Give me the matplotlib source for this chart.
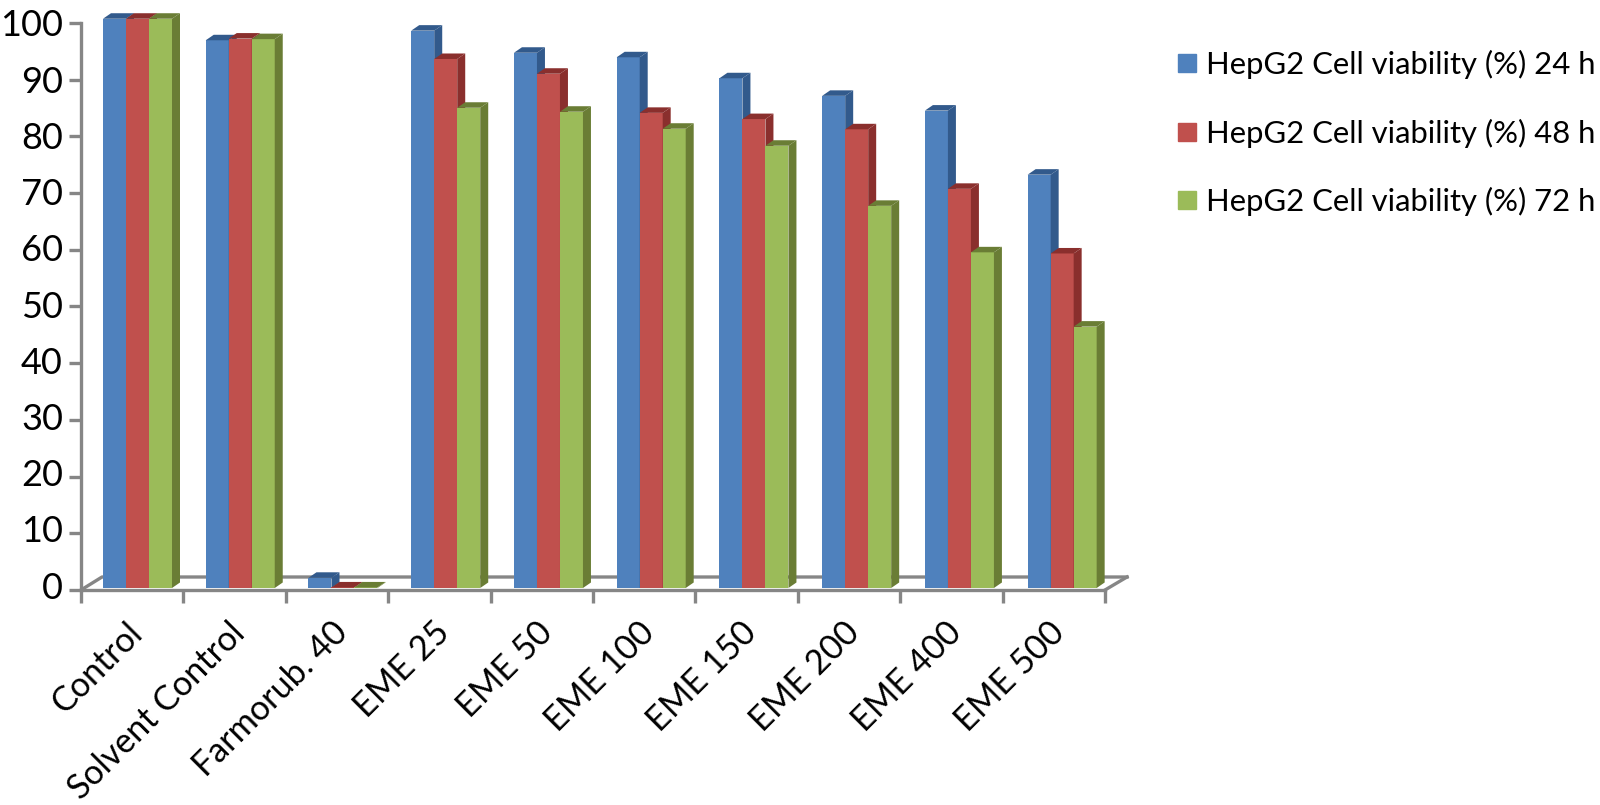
import matplotlib
matplotlib.use("Agg")
import matplotlib.pyplot as plt
from matplotlib.patches import Polygon
from matplotlib.lines import Line2D
from matplotlib.transforms import ScaledTranslation

plt.rcParams["font.family"] = ["Lato", "DejaVu Sans"]

categories = ["Control", "Solvent Control", "Farmorub. 40", "EME 25", "EME 50",
              "EME 100", "EME 150", "EME 200", "EME 400", "EME 500"]
series_names = ["HepG2 Cell viability (%) 24 h", "HepG2 Cell viability (%) 48 h",
                "HepG2 Cell viability (%) 72 h"]
viab_24 = [100.4, 96.6, 1.8, 98.3, 94.4, 93.6, 89.9, 86.8, 84.2, 72.9]
viab_48 = [100.4, 96.9, 0.1, 93.3, 90.7, 83.8, 82.7, 80.9, 70.4, 59.0]
viab_72 = [100.4, 96.8, 0.1, 84.7, 84.0, 81.0, 78.0, 67.4, 59.2, 46.1]
front_colors = ["#4f81bd", "#c0504d", "#9bbb59"]
side_colors = ["#325a8c", "#8a2f2d", "#6a7d35"]

fig = plt.figure(figsize=(16, 8.05), dpi=100)
# axes: x 0..10 = pixels 81..1105, y 0..100 = pixels 590..23
ax = fig.add_axes([81 / 1600, 1 - 590 / 805, 1024 / 1600, 567 / 805])
ax.set_xlim(0, 10)
ax.set_ylim(0, 100)
ax.patch.set_alpha(0)

px_x = 10 / 1024
px_y = 100 / 567
gray = "#868686"
line_w = 2.4

# floor outline
ax.plot([0, 21 * px_x, 10 + 22 * px_x], [0, 13 * px_y, 13 * px_y], color=gray, lw=line_w,
        clip_on=False, zorder=1)
ax.plot([10, 10 + 22 * px_x], [0, 13 * px_y], color=gray, lw=line_w, clip_on=False, zorder=1)

bar_w = 23 * px_x
base = 2 * px_y
dx = 8 * px_x
dy = 5.5 * px_y
start = 22 * px_x
group_step = 102.74 * px_x

for s, vals in enumerate([viab_24, viab_48, viab_72]):
    for i, v in enumerate(vals):
        x0 = i * group_step + start + s * bar_w
        top = base + v
        ax.bar(x0, v, bar_w, bottom=base, align="edge", color=front_colors[s], zorder=3 + s,
               clip_on=False, linewidth=0)
        ax.add_patch(Polygon([(x0 + bar_w, base), (x0 + bar_w + dx, base + dy),
                              (x0 + bar_w + dx, top + dy), (x0 + bar_w, top)],
                             closed=True, color=side_colors[s], zorder=3 + s, clip_on=False, lw=0))
        ax.add_patch(Polygon([(x0, top), (x0 + dx, top + dy), (x0 + bar_w + dx, top + dy),
                              (x0 + bar_w, top)],
                             closed=True, color=side_colors[s], zorder=3 + s, clip_on=False, lw=0))

for side in ["top", "right"]:
    ax.spines[side].set_visible(False)
for side in ["left", "bottom"]:
    ax.spines[side].set_color(gray)
    ax.spines[side].set_linewidth(line_w)
    ax.spines[side].set_zorder(10)

ax.set_yticks(range(0, 101, 10))
ax.tick_params(axis="y", length=9, width=line_w, color=gray, labelsize=26, pad=4)
ax.set_xticks(range(0, 11))
ax.set_xticklabels([""] * 11)
ax.tick_params(axis="x", length=9, width=line_w, color=gray)

# tick numbers sit a little above the ticks towards the bottom
for lab, v in zip(ax.get_yticklabels(), range(0, 101, 10)):
    lab.set_transform(lab.get_transform() + ScaledTranslation(0, 0.05 * (1 - v / 100), fig.dpi_scale_trans))

for i, name in enumerate(categories):
    ax.annotate(name, xy=(i + 0.44, 0), xycoords="data", xytext=(0, -19), textcoords="offset points",
                rotation=45, rotation_mode="anchor", ha="right", va="top", fontsize=24.6, color="black")

handles = [Line2D([], [], linestyle="", marker="s", markersize=13, color=c) for c in front_colors]
fig.legend(handles, series_names, loc="upper left", bbox_to_anchor=(1172 / 1600, 1 - 50 / 805),
           frameon=False, fontsize=22.3, labelspacing=1.27, handletextpad=0.1, borderpad=0,
           borderaxespad=0, handlelength=1)

fig.savefig("out.png", dpi=100)
